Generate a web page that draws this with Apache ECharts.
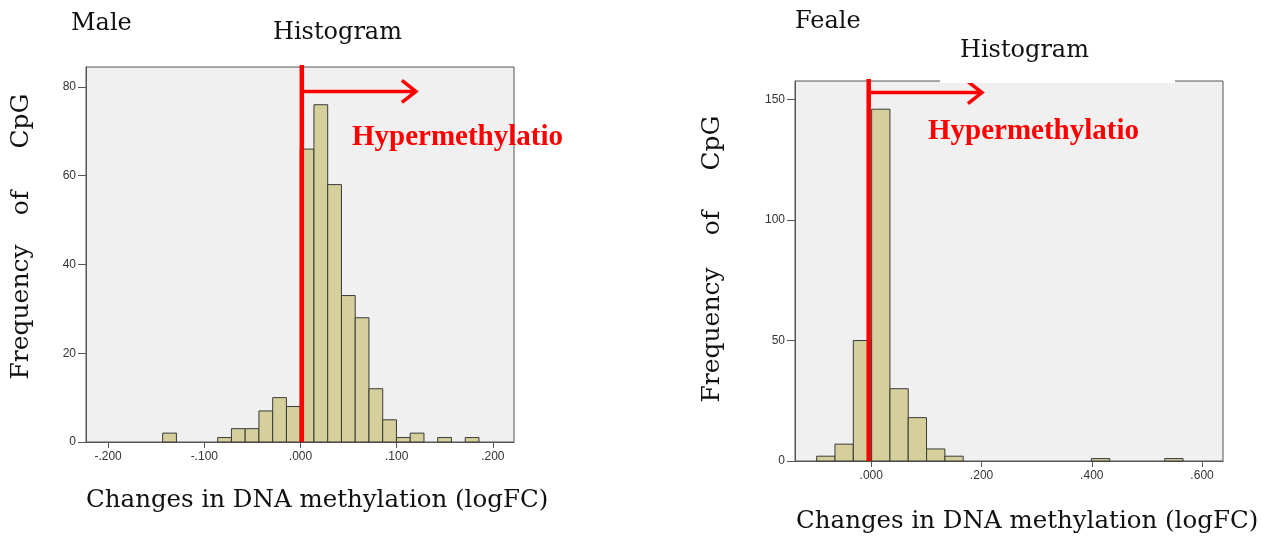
<!DOCTYPE html>
<html>
<head>
<meta charset="utf-8">
<script src="https://cdn.jsdelivr.net/npm/echarts@6/dist/echarts.min.js"></script>
<style>
  html, body { margin: 0; padding: 0; background: #fff; }
  #chart { width: 1271px; height: 538px; }
</style>
</head>
<body>
<div id="chart"></div>
<script>
// male histogram: lower bin edges + counts
const maleBinWidth = 0.0143;
const maleBinStart = [-0.1433, -0.0861, -0.0718, -0.0575, -0.0432, -0.0289, -0.0146, -0.0003, 0.0140,
  0.0283, 0.0426, 0.0569, 0.0712, 0.0855, 0.0998, 0.1141, 0.1427, 0.1713];
const maleCounts = [2, 1, 3, 3, 7, 10, 8, 66, 76, 58, 33, 28, 12, 5, 1, 2, 1, 1];
const maleXTicks = [-0.2, -0.1, 0, 0.1, 0.2];
const maleYTicks = [0, 20, 40, 60, 80];

// female histogram
const femaleBinWidth = 0.0332;
const femaleBinStart = [-0.0991, -0.0659, -0.0326, 0.0006, 0.0338, 0.0670, 0.1003, 0.1335, 0.3994, 0.5323];
const femaleCounts = [2, 7, 50, 146, 30, 18, 5, 2, 1, 1];
const femaleXTicks = [0, 0.2, 0.4, 0.6];
const femaleYTicks = [0, 50, 100, 150];

// where the red cut line / arrow sit (data units)
const maleCut = 0.0014, maleArrowEnd = 0.12, maleArrowY = 79;
const femaleCut = -0.0047, femaleArrowEnd = 0.2007, femaleArrowY = 152.9;

const serif = "DejaVu Serif";
const chart = echarts.init(document.getElementById("chart"));

function bins(starts, counts, w) {
  return starts.map((s, i) => [s, s + w, counts[i]]);
}

function fmtX(v) {
  return v.toFixed(3).replace("0.", ".");
}

function renderBar(params, api) {
  const p0 = api.coord([api.value(0), api.value(2)]);
  const p1 = api.coord([api.value(1), 0]);
  return {
    type: "rect",
    shape: { x: p0[0], y: p0[1], width: p1[0] - p0[0], height: p1[1] - p0[1] },
    style: { fill: "#d4cf9b", stroke: "#3a3a3a", lineWidth: 1 },
  };
}

function xAxis(grid, min, max, ticks) {
  return {
    type: "value", gridIndex: grid, min: min, max: max,
    axisLine: { show: true, onZero: false, lineStyle: { color: "#555", width: 1 } },
    axisTick: { show: true, length: 6, customValues: ticks, lineStyle: { color: "#555" } },
    axisLabel: { customValues: ticks, formatter: fmtX, margin: 9, color: "#333", fontSize: 12, fontFamily: "Liberation Sans" },
    splitLine: { show: false },
  };
}
function yAxis(grid, max, ticks) {
  return {
    type: "value", gridIndex: grid, min: 0, max: max,
    axisLine: { show: true, onZero: false, lineStyle: { color: "#555", width: 1 } },
    axisTick: { show: true, length: 8, customValues: ticks, lineStyle: { color: "#555" } },
    axisLabel: { customValues: ticks, margin: 10, color: "#333", fontSize: 12, fontFamily: "Liberation Sans" },
    splitLine: { show: false },
  };
}

function txt(x, y, text, size) {
  return {
    type: "text", x: x, y: y, z: 50,
    style: { text: text, font: size + "px '" + serif + "'", fill: "#111", align: "left", verticalAlign: "middle" },
  };
}
function vtxt(x, y, text) {
  return {
    type: "text", x: x, y: y, rotation: Math.PI / 2, z: 50,
    style: { text: text, font: "25px '" + serif + "'", fill: "#111", align: "center", verticalAlign: "middle" },
  };
}

chart.setOption({
  animation: false,
  grid: [
    { left: 86, top: 67, width: 428, height: 375, show: true, backgroundColor: "#f0f0f0", borderColor: "#555", borderWidth: 1 },
    { left: 795, top: 81, width: 428, height: 380, show: true, backgroundColor: "#f0f0f0", borderColor: "#555", borderWidth: 1 },
  ],
  xAxis: [xAxis(0, -0.223, 0.222, maleXTicks), xAxis(1, -0.1384, 0.638, femaleXTicks)],
  yAxis: [yAxis(0, 84.5, maleYTicks), yAxis(1, 157.7, femaleYTicks)],
  series: [
    { type: "custom", xAxisIndex: 0, yAxisIndex: 0, renderItem: renderBar, encode: { x: [0, 1], y: 2 },
      data: bins(maleBinStart, maleCounts, maleBinWidth) },
    { type: "custom", xAxisIndex: 1, yAxisIndex: 1, renderItem: renderBar, encode: { x: [0, 1], y: 2 },
      data: bins(femaleBinStart, femaleCounts, femaleBinWidth) },
  ],
});

// red cut line + arrow, placed through the axes
function cutMarks(grid, cut, arrowEnd, arrowY, yMax) {
  const bottom = chart.convertToPixel({ gridIndex: grid }, [cut, 0]);
  const top = chart.convertToPixel({ gridIndex: grid }, [cut, yMax]);
  const a = chart.convertToPixel({ gridIndex: grid }, [arrowEnd, arrowY]);
  const red = { stroke: "#ff0000", lineCap: "butt" };
  return [
    { type: "line", z: 40, shape: { x1: bottom[0], y1: top[1] - 2, x2: bottom[0], y2: bottom[1] },
      style: Object.assign({ lineWidth: 4.5 }, red) },
    { type: "line", z: 40, shape: { x1: bottom[0] + 2, y1: a[1], x2: a[0], y2: a[1] },
      style: Object.assign({ lineWidth: 3.5 }, red) },
    { type: "polyline", z: 40, shape: { points: [[a[0] - 14, a[1] - 11], [a[0], a[1]], [a[0] - 14, a[1] + 11]] },
      style: Object.assign({ lineWidth: 3.5, fill: null }, red) },
  ];
}

const hyperStyle = { font: "bold 29px 'Liberation Serif'", fill: "#ff0000" };

chart.setOption({
  graphic: [
    ...cutMarks(0, maleCut, maleArrowEnd, maleArrowY, 84.5),
    ...cutMarks(1, femaleCut, femaleArrowEnd, femaleArrowY, 157.7),
    // white gap in the top border of the right frame
    { type: "rect", z: 45, shape: { x: 940, y: 79, width: 235, height: 4 }, style: { fill: "#fff" } },
    txt(71, 24, "Male", 24),
    txt(273, 33, "Histogram", 24),
    txt(795, 22, "Feale", 24),
    txt(960, 51, "Histogram", 24),
    txt(86, 501, "Changes in DNA methylation (logFC)", 24.5),
    txt(796, 522, "Changes in DNA methylation (logFC)", 24.5),
    { type: "text", x: 352, y: 138, z: 60, style: Object.assign({ text: "Hypermethylatio", align: "left", verticalAlign: "middle" }, hyperStyle) },
    { type: "text", x: 928, y: 132, z: 60, style: Object.assign({ text: "Hypermethylatio", align: "left", verticalAlign: "middle" }, hyperStyle) },
    vtxt(21, 312, "Frequency"),
    vtxt(21, 203, "of"),
    vtxt(21, 121, "CpG"),
    vtxt(712, 335, "Frequency"),
    vtxt(712, 223, "of"),
    vtxt(712, 143, "CpG"),
  ],
});
</script>
</body>
</html>
